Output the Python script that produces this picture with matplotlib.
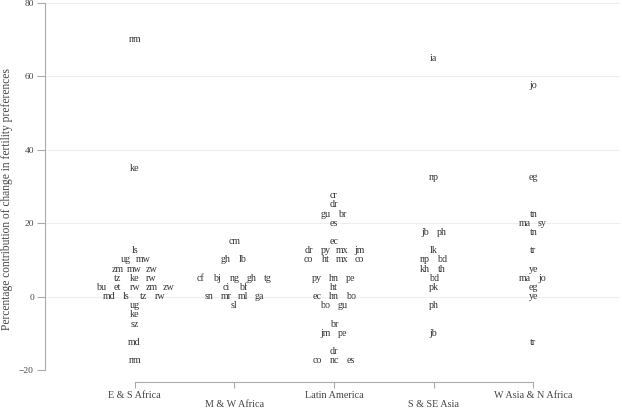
import numpy as np
import matplotlib.pyplot as plt
import matplotlib.transforms as mtransforms

plt.rcParams['font.family'] = ['Liberation Serif', 'DejaVu Serif']

# regions on the x axis
regions = ['E & S Africa', 'M & W Africa', 'Latin America', 'S & SE Asia', 'W Asia & N Africa']

# country codes and their (binned) percentage contribution, per region
es_codes = ['nm', 'ke', 'ls', 'ug', 'mw', 'zm', 'mw', 'zw', 'tz', 'ke', 'rw',
            'bu', 'et', 'rw', 'zm', 'zw', 'md', 'ls', 'tz', 'rw', 'ug', 'ke', 'sz', 'md', 'nm']
es_vals = [70, 35, 12.5, 10, 10, 7.5, 7.5, 7.5, 5, 5, 5,
           2.5, 2.5, 2.5, 2.5, 2.5, 0, 0, 0, 0, -2.5, -5, -7.5, -12.5, -17.5]

mw_codes = ['cm', 'gh', 'lb', 'cf', 'bj', 'ng', 'gh', 'tg', 'ci', 'bf', 'sn', 'mr', 'ml', 'ga', 'sl']
mw_vals = [15, 10, 10, 5, 5, 5, 5, 5, 2.5, 2.5, 0, 0, 0, 0, -2.5]

la_codes = ['cr', 'dr', 'gu', 'br', 'es', 'ec', 'dr', 'py', 'mx', 'jm', 'co', 'ht', 'mx', 'co',
            'py', 'hn', 'pe', 'ht', 'ec', 'hn', 'bo', 'bo', 'gu', 'br', 'jm', 'pe', 'dr', 'co', 'nc', 'es']
la_vals = [27.5, 25, 22.5, 22.5, 20, 15, 12.5, 12.5, 12.5, 12.5, 10, 10, 10, 10,
           5, 5, 5, 2.5, 0, 0, 0, -2.5, -2.5, -7.5, -10, -10, -15, -17.5, -17.5, -17.5]

sa_codes = ['ia', 'np', 'jb', 'ph', 'lk', 'np', 'bd', 'kh', 'th', 'bd', 'pk', 'ph', 'jb']
sa_vals = [65, 32.5, 17.5, 17.5, 12.5, 10, 10, 7.5, 7.5, 5, 2.5, -2.5, -10]

wa_codes = ['jo', 'eg', 'tn', 'ma', 'sy', 'tn', 'tr', 'ye', 'ma', 'jo', 'eg', 'ye', 'tr']
wa_vals = [57.5, 32.5, 22.5, 20, 20, 17.5, 12.5, 7.5, 5, 5, 2.5, 0, -12.5]

groups = [(es_codes, es_vals), (mw_codes, mw_vals), (la_codes, la_vals),
          (sa_codes, sa_vals), (wa_codes, wa_vals)]

yticks = [-20, 0, 20, 40, 60, 80]

W, H = 622, 409
fig = plt.figure(figsize=(W / 100, H / 100), dpi=100)
ax = fig.add_axes([45/W, 1 - 370/H, (620 - 45)/W, 367/H])

spacing = 0.17  # horizontal gap between labels sharing a row
for i, (codes, vals) in enumerate(groups):
    vals = np.array(vals)
    for v in np.unique(vals):
        row = [c for c, vv in zip(codes, vals) if vv == v]
        n = len(row)
        for k, c in enumerate(row):
            x = i + (k - (n - 1) / 2) * spacing
            ax.text(x, v, c, ha='center', va='center', fontsize=7.2, color='#333333')

ax.set_xlim(-0.9, 4.87)
ax.set_ylim(-20, 80)
ax.set_yticks(yticks)
ax.set_yticklabels([str(t).replace('-', '\u2212') for t in yticks], fontsize=6.8)
ax.grid(axis='y', color='#eeeeee', linewidth=0.8)
ax.set_axisbelow(True)

for s in ['top', 'right']:
    ax.spines[s].set_visible(False)
ax.spines['left'].set_color('#aaaaaa')
ax.spines['bottom'].set_color('#aaaaaa')
ax.spines['bottom'].set_position(('outward', 12 * 0.72))  # 12 px below the plot
ax.spines['bottom'].set_bounds(0, 4)
ax.tick_params(axis='y', colors='#aaaaaa', labelcolor='#444444', length=6, width=0.8, pad=2)
ax.tick_params(axis='x', colors='#aaaaaa', length=4, width=0.8, labelbottom=False)
ax.set_xticks(range(len(regions)))

# staggered region labels
trans = mtransforms.blended_transform_factory(ax.transData, fig.transFigure)
for i, r in enumerate(regions):
    ypix = 395 if i % 2 == 0 else 404.5
    ax.text(i, 1 - ypix / H, r, transform=trans, ha='center', va='center',
            fontsize=7.3, color='#444444')

fig.text(7 / W, 1 - 199 / H, 'Percentage contribution of change in fertility preferences',
         rotation=90, ha='center', va='center', fontsize=8.3, color='#444444')

fig.savefig('out.png', dpi=100)
